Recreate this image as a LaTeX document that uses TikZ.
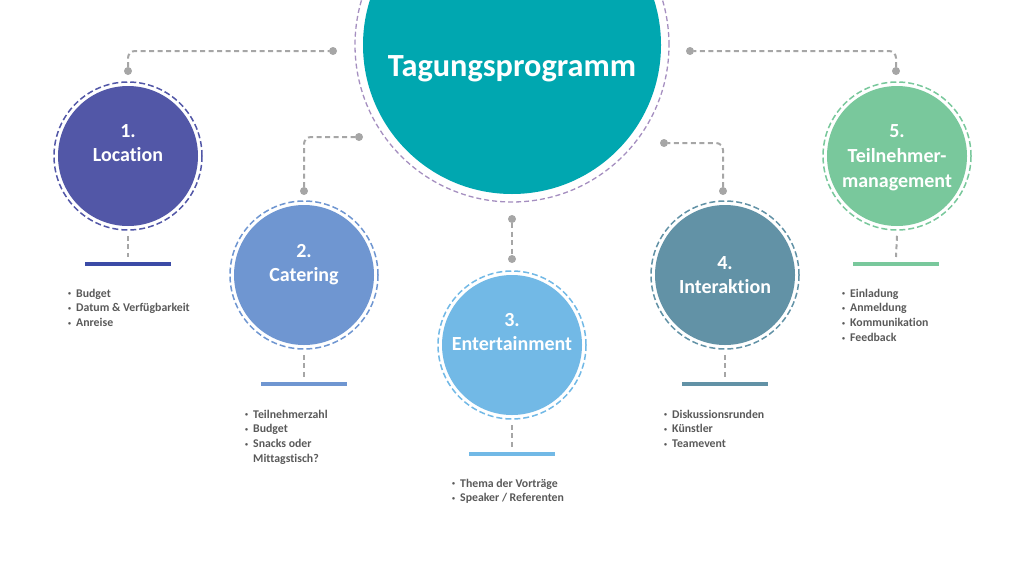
\documentclass[tikz,border=0pt]{standalone}
\usepackage{fontspec}
\setmainfont[Ligatures=NoCommon]{Carlito}
\usepackage{xcolor}
\usepackage{tikz}
\usetikzlibrary{positioning,calc}
\definecolor{hubteal}{HTML}{00A7B0}
\definecolor{hubring}{HTML}{A58FC0}
\definecolor{locblue}{HTML}{5257A7}
\definecolor{locbar}{HTML}{3B4BA6}
\definecolor{catblue}{HTML}{6F96D1}
\definecolor{entblue}{HTML}{72B9E6}
\definecolor{intslate}{HTML}{6292A6}
\definecolor{tnmgreen}{HTML}{79C89C}
\definecolor{linkgray}{HTML}{A6A6A6}
\definecolor{notegray}{HTML}{595959}
\tikzset{
  hub/.style={circle, draw=hubring, line width=1.3pt, dash pattern=on 5pt off 3pt, fill=white,
    minimum size=314pt, inner sep=0pt,
    path picture={\fill[hubteal] (path picture bounding box.center) circle[radius=149pt];}},
  topic/.style={circle, draw=#1, line width=1.5pt, dash pattern=on 6pt off 3pt, fill=white,
    minimum size=148pt, inner sep=0pt,
    path picture={\fill[#1] (path picture bounding box.center) circle[radius=70pt];}},
  title/.style={text=white, align=center, inner sep=0pt, font=\bfseries\fontsize{20}{24}\selectfont},
  dot/.style={circle, fill=linkgray, inner sep=0pt, minimum size=8pt, outer sep=0pt},
  link/.style={draw=linkgray, line width=2pt, dash pattern=on 5pt off 3.5pt, rounded corners=7pt},
  bar/.style={fill=#1, minimum width=86pt, minimum height=3.5pt, inner sep=0pt},
  notes/.style={text=notegray, anchor=base west, inner sep=0pt, font=\bfseries\fontsize{11.8}{14.8}\selectfont}
}
\newcommand{\bul}{\raisebox{1.4pt}{\fontsize{6}{6}\selectfont\textbullet}}
\newenvironment{points}{\begin{tabular}[t]{@{}l@{\hspace{5pt}}l@{}}}{\end{tabular}}

\begin{document}
\begin{tikzpicture}[x=1pt, y=-1pt]
  \useasboundingbox (0,0) rectangle (1024,576);
  \clip (0,0) rectangle (1024,576);

  % centre
  \node[hub] (hub) at (512,45) {};
  \node[anchor=base, text=white, inner sep=0pt, font=\bfseries\fontsize{32.3}{36}\selectfont] (hubt) at (512,76) {Tagungsprogramm};

  % topics
  \node[topic=locblue] (loc) at (128,156) {};
  \node[title] (loct) at (128,143) {1.\\Location};
  \node[topic=catblue] (cat) at (304,275) {};
  \node[title] (catt) at (304,265) {2.\\Catering};
  \node[topic=entblue] (ent) at (512,345) {};
  \node[title] (entt) at (512,332) {3.\\Entertainment};
  \node[topic=intslate] (int) at (725,275) {};
  \node[title] (intt) at (725,275) {4.\\Interaktion};
  \node[topic=tnmgreen] (tnm) at (897,156) {};
  \node[title, font=\bfseries\fontsize{20}{25}\selectfont] (tnmt) at (897,158) {5.\\Teilnehmer-\\management};

  % links to the centre
  \node[dot] (d1a) at (128,71) {};
  \node[dot] (d1b) at (333,51) {};
  \node[dot] (d2a) at (304,191) {};
  \node[dot] (d2b) at (359,137) {};
  \node[dot] (d3a) at (512,219) {};
  \node[dot] (d3b) at (512,259) {};
  \node[dot] (d4a) at (723,191) {};
  \node[dot] (d4b) at (664,143) {};
  \node[dot] (d5a) at (896,71) {};
  \node[dot] (d5b) at (690,51) {};
  \draw[link] (d1a) |- (d1b);
  \draw[link] (d2a) |- (d2b);
  \draw[link] (d3a) -- (d3b);
  \draw[link] (d4a) |- (d4b);
  \draw[link] (d5a) |- (d5b);

  % bars
  \node[bar=locbar] (b1) at (128,264) {};
  \node[bar=catblue] (b2) at (304,384) {};
  \node[bar=entblue] (b3) at (512,454) {};
  \node[bar=intslate] (b4) at (725,384) {};
  \node[bar=tnmgreen] (b5) at (896,264) {};
  \draw[link] ([yshift=-5pt]loc.south) -- ([yshift=7pt]b1.center);
  \draw[link] ([yshift=-5pt]cat.south) -- ([yshift=7pt]b2.center);
  \draw[link] ([yshift=-5pt]ent.south) -- ([yshift=7pt]b3.center);
  \draw[link] ([yshift=-5pt]int.south) -- ([yshift=7pt]b4.center);
  \draw[link] ([yshift=-5pt]tnm.south) -- ([yshift=7pt]b5.center);

  % notes
  \node[notes] (n1) at (68,297) {\begin{points}
    \bul & Budget\\ \bul & Datum \& Verfügbarkeit\\ \bul & Anreise
  \end{points}};
  \node[notes] (n2) at (245,418) {\begin{points}
    \bul & Teilnehmerzahl\\ \bul & Budget\\ \bul & Snacks oder\\ & Mittagstisch?
  \end{points}};
  \node[notes] (n3) at (452,487) {\begin{points}
    \bul & Thema der Vorträge\\ \bul & Speaker / Referenten
  \end{points}};
  \node[notes] (n4) at (664,418) {\begin{points}
    \bul & Diskussionsrunden\\ \bul & Künstler\\ \bul & Teamevent
  \end{points}};
  \node[notes] (n5) at (842,297) {\begin{points}
    \bul & Einladung\\ \bul & Anmeldung\\ \bul & Kommunikation\\ \bul & Feedback
  \end{points}};
\end{tikzpicture}
\end{document}
